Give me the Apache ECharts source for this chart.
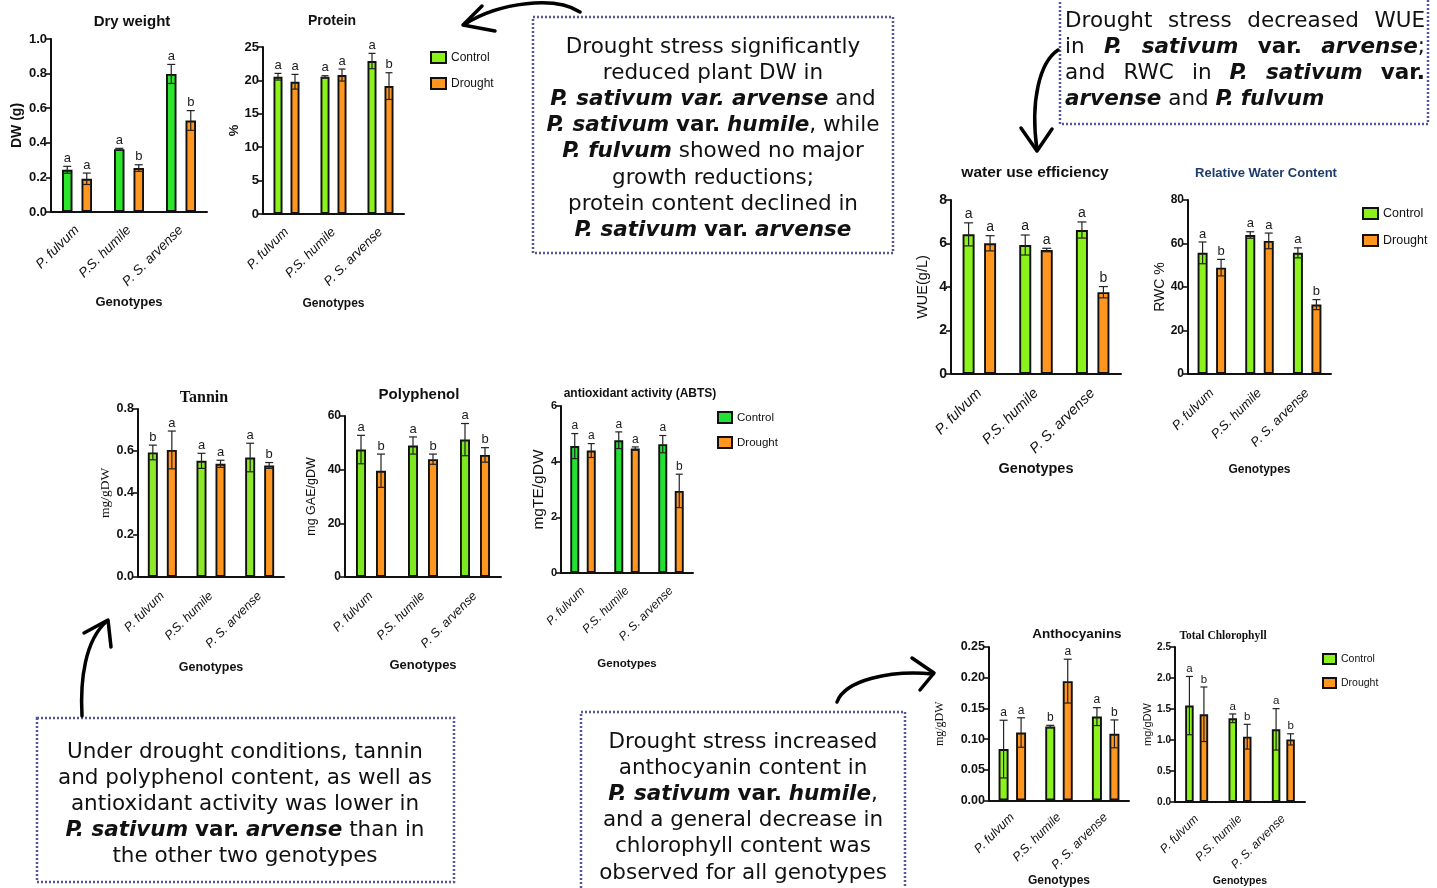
<!DOCTYPE html>
<html><head><meta charset="utf-8">
<script src="https://cdn.jsdelivr.net/npm/echarts@6/dist/echarts.min.js"></script>
<style>html,body{margin:0;padding:0;background:#fff}#c{width:1437px;height:888px}</style>
</head><body><div id="c"></div>
<script>
// ---------------- DATA ----------------
const genotypes = ['P. fulvum', 'P.S. humile', 'P. S. arvense'];
const groupNames = ['Control', 'Drought'];

const dwTicks = ['0.0','0.2','0.4','0.6','0.8','1.0'];
const dwControl = [0.244, 0.363, 0.798];
const dwControlErr = [0.02, 0.005, 0.055];
const dwControlLetters = ['a','a','a'];
const dwDrought = [0.192, 0.254, 0.529];
const dwDroughtErr = [0.033, 0.019, 0.057];
const dwDroughtLetters = ['a','b','b'];

const proteinTicks = ['0','5','10','15','20','25'];
const proteinControl = [20.55, 20.55, 22.9];
const proteinControlErr = [0.5, 0.15, 1.15];
const proteinControlLetters = ['a','a','a'];
const proteinDrought = [19.8, 20.8, 19.15];
const proteinDroughtErr = [1.1, 0.9, 2.0];
const proteinDroughtLetters = ['a','a','b'];

const wueTicks = ['0','2','4','6','8'];
const wueControl = [6.42, 5.93, 6.62];
const wueControlErr = [0.53, 0.46, 0.37];
const wueControlLetters = ['a','a','a'];
const wueDrought = [6.01, 5.70, 3.76];
const wueDroughtErr = [0.35, 0.08, 0.26];
const wueDroughtLetters = ['a','a','b'];

const rwcTicks = ['0','20','40','60','80'];
const rwcControl = [55.7, 63.9, 55.7];
const rwcControlErr = [5.0, 1.5, 2.3];
const rwcControlLetters = ['a','a','a'];
const rwcDrought = [48.9, 61.2, 31.9];
const rwcDroughtErr = [3.8, 3.6, 2.3];
const rwcDroughtLetters = ['b','a','b'];

const tanninTicks = ['0.0','0.2','0.4','0.6','0.8'];
const tanninControl = [0.593, 0.553, 0.569];
const tanninControlErr = [0.035, 0.036, 0.068];
const tanninControlLetters = ['b','a','a'];
const tanninDrought = [0.605, 0.539, 0.531];
const tanninDroughtErr = [0.09, 0.017, 0.014];
const tanninDroughtLetters = ['a','a','b'];

const polyTicks = ['0','20','40','60'];
const polyControl = [47.5, 49.0, 51.2];
const polyControlErr = [5.3, 3.2, 6.0];
const polyControlLetters = ['a','a','a'];
const polyDrought = [39.6, 43.9, 45.5];
const polyDroughtErr = [6.2, 1.9, 2.7];
const polyDroughtLetters = ['b','b','b'];

const abtsTicks = ['0','2','4','6'];
const abtsControl = [4.56, 4.77, 4.63];
const abtsControlErr = [0.45, 0.3, 0.31];
const abtsControlLetters = ['a','a','a'];
const abtsDrought = [4.40, 4.47, 2.95];
const abtsDroughtErr = [0.25, 0.06, 0.6];
const abtsDroughtLetters = ['a','a','b'];

const anthoTicks = ['0.00','0.05','0.10','0.15','0.20','0.25'];
const anthoControl = [0.0837, 0.1204, 0.1366];
const anthoControlErr = [0.047, 0.002, 0.0146];
const anthoControlLetters = ['a','b','a'];
const anthoDrought = [0.1107, 0.1944, 0.1085];
const anthoDroughtErr = [0.024, 0.0357, 0.0227];
const anthoDroughtLetters = ['a','a','b'];

const chlTicks = ['0.0','0.5','1.0','1.5','2.0','2.5'];
const chlControl = [1.555, 1.35, 1.172];
const chlControlErr = [0.47, 0.07, 0.334];
const chlControlLetters = ['a','a','a'];
const chlDrought = [1.415, 1.053, 1.01];
const chlDroughtErr = [0.44, 0.2, 0.09];
const chlDroughtLetters = ['b','b','b'];

const panelTitles = ['Dry weight','Protein','water use efficiency','Relative Water Content','Tannin','Polyphenol','antioxidant activity (ABTS)','Anthocyanins','Total Chlorophyll'];
const yAxisNames = ['DW (g)','%','WUE(g/L)','RWC %','mg/gDW','mg GAE/gDW','mgTE/gDW','mg/gDW','mg/gDW'];
const xAxisName = 'Genotypes';

const box1Lines = [
  'Drought stress significantly',
  'reduced plant DW in',
  '{bi|P. sativum var. arvense} and',
  '{bi|P. sativum} {b|var.} {bi|humile}, while',
  '{bi|P. fulvum} showed no major',
  'growth reductions;',
  'protein content declined in',
  '{bi|P. sativum} {b|var.} {bi|arvense}'
];
const box2Lines = [
  [[['Drought','n']],[['stress','n']],[['decreased','n']],[['WUE','n']]],
  [[['in','n']],[['P.','bi']],[['sativum','bi']],[['var.','b']],[['arvense','bi'],[';','n']]],
  [[['and','n']],[['RWC','n']],[['in','n']],[['P.','bi']],[['sativum','bi']],[['var.','b']]],
  [[['arvense','bi']],[['and','n']],[['P.','bi']],[['fulvum','bi']]]
];
const box3Lines = [
  'Under drought conditions, tannin',
  'and polyphenol content, as well as',
  'antioxidant activity was lower in',
  '{bi|P. sativum} {b|var.} {bi|arvense} than in',
  'the other two genotypes'
];
const box4Lines = [
  'Drought stress increased',
  'anthocyanin content in',
  '{bi|P. sativum} {b|var.} {bi|humile},',
  'and a general decrease in',
  'chlorophyll content was',
  'observed for all genotypes'
];

// ---------------- STYLE / LAYOUT ----------------
const FS = '"Liberation Sans", Arial, sans-serif';
const SERIF = '"Liberation Serif", "Times New Roman", serif';
const BOXF = '"DejaVu Sans", Verdana, sans-serif';
const BOX_FS = 21.5;
const ORANGE = '#ff9620';
const LIME = '#8cf21c';

const P = [
  {ticks:dwTicks, c:dwControl, ce:dwControlErr, cl:dwControlLetters, d:dwDrought, de:dwDroughtErr, dl:dwDroughtLetters},
  {ticks:proteinTicks, c:proteinControl, ce:proteinControlErr, cl:proteinControlLetters, d:proteinDrought, de:proteinDroughtErr, dl:proteinDroughtLetters},
  {ticks:wueTicks, c:wueControl, ce:wueControlErr, cl:wueControlLetters, d:wueDrought, de:wueDroughtErr, dl:wueDroughtLetters},
  {ticks:rwcTicks, c:rwcControl, ce:rwcControlErr, cl:rwcControlLetters, d:rwcDrought, de:rwcDroughtErr, dl:rwcDroughtLetters},
  {ticks:tanninTicks, c:tanninControl, ce:tanninControlErr, cl:tanninControlLetters, d:tanninDrought, de:tanninDroughtErr, dl:tanninDroughtLetters},
  {ticks:polyTicks, c:polyControl, ce:polyControlErr, cl:polyControlLetters, d:polyDrought, de:polyDroughtErr, dl:polyDroughtLetters},
  {ticks:abtsTicks, c:abtsControl, ce:abtsControlErr, cl:abtsControlLetters, d:abtsDrought, de:abtsDroughtErr, dl:abtsDroughtLetters},
  {ticks:anthoTicks, c:anthoControl, ce:anthoControlErr, cl:anthoControlLetters, d:anthoDrought, de:anthoDroughtErr, dl:anthoDroughtLetters},
  {ticks:chlTicks, c:chlControl, ce:chlControlErr, cl:chlControlLetters, d:chlDrought, de:chlDroughtErr, dl:chlDroughtLetters}
];

const S = [
  {left:51, top:39, width:156, height:173, bw:10.5, dd:19.5, cap:4, green:'#2de52d',
   tx:132, ty:21, ts:15, tf:FS, yn:{fs:14, fw:'bold', ff:FS, gap:27}, yl:13, xl:13.5, xm:16, xn:13, xg:84, lf:13},
  {left:263, top:47, width:141, height:167, bw:9, dd:17, cap:3.5, green:LIME,
   tx:332, ty:20, ts:14, tf:FS, yn:{fs:13, fw:'bold', ff:FS, gap:21}, yl:13, xl:13, xm:16, xn:12, xg:84, lf:13},
  {left:951, top:200, width:170, height:174, bw:12, dd:21.5, cap:4.5, green:LIME,
   tx:1035, ty:172, ts:15.5, tf:FS, yn:{fs:14.5, fw:'normal', ff:FS, gap:21}, yl:14, xl:14.5, xm:17, xn:14.5, xg:87, lf:14},
  {left:1188, top:200, width:143, height:174, bw:10, dd:18.5, cap:4, green:LIME,
   tx:1266, ty:173, ts:13, tf:FS, tc:'#1d3b6b', yn:{fs:14, fw:'normal', ff:FS, gap:19}, yl:12, xl:13, xm:17, xn:12, xg:90, lf:13},
  {left:138, top:409, width:146, height:168, bw:10, dd:19, cap:4, green:'#8ee82a',
   tx:204, ty:397, ts:16, tf:SERIF, yn:{fs:13.5, fw:'normal', ff:SERIF, gap:24}, yl:12.5, xl:12.5, xm:17, xn:12.5, xg:84, lf:13},
  {left:345, top:416, width:156, height:161, bw:10, dd:20, cap:4, green:'#7de81f',
   tx:419, ty:394, ts:15, tf:FS, yn:{fs:12.5, fw:'normal', ff:FS, gap:27}, yl:12, xl:12.5, xm:17, xn:13, xg:82, lf:13},
  {left:561, top:406, width:132, height:167, bw:9, dd:16.5, cap:3.5, green:'#22e034',
   tx:640, ty:393, ts:12, tf:FS, yn:{fs:15.5, fw:'normal', ff:FS, gap:14}, yl:11, xl:12, xm:16, xn:11.5, xg:85, lf:12},
  {left:989, top:647, width:140, height:155, bw:10, dd:17.5, cap:4, green:LIME,
   tx:1077, ty:633, ts:13.5, tf:FS, yn:{fs:12, fw:'normal', ff:SERIF, gap:43}, yl:12.5, xl:12.5, xm:15, xn:12, xg:74, lf:12},
  {left:1175, top:647, width:130, height:155, bw:8.5, dd:14.5, cap:3.5, green:LIME,
   tx:1223, ty:635, ts:11.5, tf:SERIF, yn:{fs:11, fw:'normal', ff:FS, gap:16}, yl:10, xl:12, xm:15, xn:10.5, xg:74, lf:11.5}
];

const LEG = [
  {left:430, top:51, w:15, h:11, gap:13, fs:12, green:LIME},
  {left:1362, top:207, w:15, h:11, gap:14, fs:12.5, green:LIME},
  {left:717, top:411, w:14, h:11, gap:12, fs:11.5, green:'#22e034'},
  {left:1322, top:653, w:13, h:10, gap:12, fs:10.5, green:LIME}
];

// ---------------- BUILD ----------------
const series = [];
P.forEach((p, i) => {
  const s = S[i];
  const gapPct = ((s.dd - s.bw) / s.bw * 100).toFixed(1) + '%';
  const groups = [
    [p.c, p.ce, p.cl, groupNames[0], s.green, -1],
    [p.d, p.de, p.dl, groupNames[1], ORANGE, 1]
  ];
  groups.forEach(([vals, errs, lets, name, color, sign]) => {
    series.push({
      type: 'bar', name, xAxisIndex: i, yAxisIndex: i, data: vals,
      barWidth: s.bw, barGap: gapPct, z: 2,
      itemStyle: {color, borderColor: '#111', borderWidth: 1.9},
      emphasis: {disabled: true}
    });
  });
  groups.forEach(([vals, errs, lets, name, color, sign]) => {
    series.push({
      type: 'custom', name: 'err-' + name + '-' + i, xAxisIndex: i, yAxisIndex: i, z: 5, silent: true,
      data: vals.map((v, k) => [k, v, errs[k]]), encode: {x: 0, y: 1},
      renderItem: (params, api) => {
        const k = api.value(0), v = api.value(1), e = api.value(2);
        const x = api.coord([k, v])[0] + sign * s.dd / 2;
        const yt = api.coord([k, v + e])[1], yb = api.coord([k, v - e])[1];
        const cw = s.cap;
        const ls = {stroke: '#222', lineWidth: 1.2};
        return {type: 'group', children: [
          {type: 'line', shape: {x1: x, y1: yt, x2: x, y2: yb}, style: ls},
          {type: 'line', shape: {x1: x - cw, y1: yt, x2: x + cw, y2: yt}, style: ls},
          {type: 'line', shape: {x1: x - cw, y1: yb, x2: x + cw, y2: yb}, style: ls},
          {type: 'text', x: x, y: yt - 1.5, style: {text: lets[params.dataIndex], fill: '#1a1a1a',
            font: s.lf + 'px ' + FS, align: 'center', verticalAlign: 'bottom', textAlign: 'center', textVerticalAlign: 'bottom'}}
        ]};
      }
    });
  });
});

const xAxis = S.map((s, i) => ({
  type: 'category', gridIndex: i, data: genotypes,
  axisLine: {lineStyle: {color: '#111', width: 2}},
  axisTick: {alignWithLabel: true, length: 6, lineStyle: {color: '#111', width: 2}},
  axisLabel: {rotate: 45, interval: 0, fontStyle: 'italic', fontSize: s.xl, fontFamily: FS, color: '#111', margin: s.xm},
  name: xAxisName, nameLocation: 'middle', nameGap: s.xg,
  nameTextStyle: {fontWeight: 'bold', fontSize: s.xn, fontFamily: FS, color: '#111'}
}));

const yAxis = S.map((s, i) => {
  const t = P[i].ticks.map(parseFloat);
  return {
    type: 'value', gridIndex: i, min: t[0], max: t[t.length - 1], interval: t[1] - t[0],
    axisLine: {show: true, lineStyle: {color: '#111', width: 2}},
    axisTick: {show: true, length: 5, lineStyle: {color: '#111', width: 1.6}},
    splitLine: {show: false},
    axisLabel: {fontWeight: 'bold', fontSize: s.yl, fontFamily: FS, color: '#111', margin: 4,
      formatter: v => { const l = P[i].ticks.find(x => Math.abs(parseFloat(x) - v) < 1e-6); return l === undefined ? '' : l; }},
    name: yAxisNames[i], nameLocation: 'middle', nameGap: s.yn.gap, nameRotate: 90,
    nameTextStyle: {fontWeight: s.yn.fw, fontSize: s.yn.fs, fontFamily: s.yn.ff, color: '#111'}
  };
});

const title = S.map((s, i) => ({
  text: panelTitles[i], left: s.tx, top: s.ty - s.ts * 0.45, textAlign: 'center', padding: 0,
  textStyle: {fontSize: s.ts, fontWeight: 'bold', fontFamily: s.tf, color: s.tc || '#111'}
}));

const legend = LEG.map(L => ({
  left: L.left, top: L.top, orient: 'vertical', icon: 'rect', itemWidth: L.w, itemHeight: L.h, itemGap: L.gap,
  selectedMode: false, padding: 0,
  itemStyle: {borderColor: '#111', borderWidth: 2},
  textStyle: {fontSize: L.fs, fontFamily: FS, color: '#111'},
  data: [{name: groupNames[0], itemStyle: {color: L.green}}, {name: groupNames[1], itemStyle: {color: ORANGE}}]
}));

// text boxes
const RICH = {
  b: {fontWeight: 'bold', fontFamily: BOXF, fontSize: BOX_FS, fill: '#111', color: '#111'},
  bi: {fontWeight: 'bold', fontStyle: 'italic', fontFamily: BOXF, fontSize: BOX_FS, fill: '#111', color: '#111'}
};
function centerLines(lines, cx, y0, lh) {
  return lines.map((t, k) => ({
    type: 'text', x: cx, y: y0 + k * lh, z: 10,
    style: {text: t, rich: RICH, font: BOX_FS + 'px ' + BOXF, fill: '#111',
      align: 'center', verticalAlign: 'middle', textAlign: 'center', textVerticalAlign: 'middle'}
  }));
}
const ctx = document.createElement('canvas').getContext('2d');
function fontFor(st) {
  return (st.indexOf('i') >= 0 ? 'italic ' : '') + (st.indexOf('b') >= 0 ? 'bold ' : '') + BOX_FS + 'px ' + BOXF;
}
function measure(t, st) { ctx.font = fontFor(st); return ctx.measureText(t).width; }
function justifiedLines(lines, x0, x1, y0, lh) {
  const els = [];
  const spaceW = measure(' ', 'n');
  lines.forEach((words, li) => {
    const ws = words.map(w => w.reduce((a, [t, st]) => a + measure(t, st), 0));
    const total = ws.reduce((a, b) => a + b, 0);
    const last = li === lines.length - 1;
    const gap = last ? spaceW : (x1 - x0 - total) / (words.length - 1);
    let x = x0;
    words.forEach((w, wi) => {
      let xx = x;
      w.forEach(([t, st]) => {
        els.push({type: 'text', x: xx, y: y0 + li * lh, z: 10,
          style: {text: t, font: fontFor(st), fill: '#111', align: 'left', verticalAlign: 'middle', textAlign: 'left', textVerticalAlign: 'middle'}});
        xx += measure(t, st);
      });
      x += ws[wi] + gap;
    });
  });
  return els;
}
const dotted = {fill: 'none', stroke: '#55559a', lineWidth: 2.5, lineDash: [2, 2]};
function box(x, y, w, h) { return {type: 'rect', shape: {x, y, width: w, height: h}, style: dotted, z: 9}; }
const arrowStyle = {stroke: '#000', lineWidth: 3.5, fill: 'none', lineCap: 'round', lineJoin: 'round'};
function arrow(c, head) {
  return [
    {type: 'bezierCurve', shape: c, style: arrowStyle, z: 9},
    {type: 'polyline', shape: {points: head}, style: arrowStyle, z: 9}
  ];
}

const graphic = [].concat(
  [box(533, 17, 360, 236)], centerLines(box1Lines, 713, 47, 26.2),
  [box(1060, -20, 368, 144)], justifiedLines(box2Lines, 1065, 1425, 21, 26),
  [box(37, 718, 417, 164)], centerLines(box3Lines, 245, 752, 26),
  [box(581, 712, 324, 200)], centerLines(box4Lines, 743, 742, 26.2),
  arrow({x1: 580, y1: 12, cpx1: 555, cpy1: -4, cpx2: 500, cpy2: 2, x2: 465, y2: 24}, [[482, 6], [463, 25], [495, 31]]),
  arrow({x1: 1058, y1: 50, cpx1: 1040, cpy1: 62, cpx2: 1030, cpy2: 100, x2: 1037, y2: 150}, [[1021, 128], [1037, 151], [1052, 129]]),
  arrow({x1: 82, y1: 716, cpx1: 80, cpy1: 680, cpx2: 85, cpy2: 640, x2: 107, y2: 621}, [[84, 633], [108, 620], [111, 647]]),
  arrow({x1: 837, y1: 702, cpx1: 845, cpy1: 680, cpx2: 890, cpy2: 670, x2: 933, y2: 674}, [[912, 658], [934, 673], [920, 690]])
);

const chart = echarts.init(document.getElementById('c'), null, {renderer: 'canvas'});
chart.setOption({
  animation: false, backgroundColor: '#fff',
  title, grid: S.map(s => ({left: s.left, top: s.top, width: s.width, height: s.height})),
  xAxis, yAxis, legend, series, graphic
});
</script></body></html>
